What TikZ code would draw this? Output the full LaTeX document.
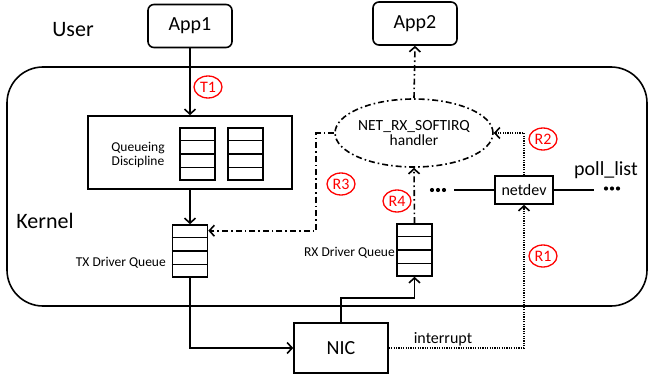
\documentclass[tikz,border=0pt]{standalone}
\usepackage{fontspec}
\setmainfont{Carlito}
\usetikzlibrary{arrows.meta,shapes.geometric,calc}
\newcommand{\fsz}[1]{\fontsize{#1}{#1}\selectfont}
\tikzset{
  box/.style={draw, line width=1.6pt, inner sep=0pt},
  appbox/.style={box, rounded corners=6pt, minimum width=84pt, minimum height=43pt, font=\fsz{20}},
  qbox/.style={box, minimum width=35pt, minimum height=52pt},
  tag/.style={draw=red, ellipse, text=red, line width=1.3pt, minimum width=28pt, minimum height=22pt, inner sep=0pt, font=\fsz{16}},
  conn/.style={line width=1.6pt, -{Straight Barb[length=5pt,width=11pt,line width=1.6pt]}},
  dashdot/.style={dash pattern=on 6pt off 3pt on 1.6pt off 3pt},
  dots/.style={line width=1.4pt, dash pattern=on 1.2pt off 1.2pt},
  lbl/.style={inner sep=0pt},
}
\newcommand{\qrows}[1]{\foreach \i in {1,2,3}{\draw[line width=1.6pt] ($(#1.north west)!\i/4!(#1.south west)$) -- ($(#1.north east)!\i/4!(#1.south east)$);}}
\begin{document}
\begin{tikzpicture}[x=1pt,y=-1pt]
\useasboundingbox (0,0) rectangle (649,380);
% kernel area
\node[draw, line width=1.6pt, rounded corners=36pt, minimum width=640pt, minimum height=239pt, inner sep=0pt] (kernel) at (327,186.5) {};
\node[lbl, font=\fsz{22}] (user) at (73,30) {User};
\node[lbl, font=\fsz{22}] (kerneltxt) at (45,221) {Kernel};
% apps
\node[appbox] (app1) at (190,26) {App1};
\node[appbox] (app2) at (415,23.5) {App2};
% qdisc
\node[box, minimum width=204pt, minimum height=73pt] (qdisc) at (190,152.5) {};
\node[lbl, font=\fsz{13.5}, align=center] (qdtxt) at (138,155) {Queueing\\Discipline};
\node[qbox] (q1) at (197.5,154) {};
\node[qbox] (q2) at (245.5,154) {};
\qrows{q1}
\qrows{q2}
% driver queues
\node[qbox] (txq) at (190,251) {};
\qrows{txq}
\node[lbl, font=\fsz{13.5}, anchor=east] (txtxt) at (166,263) {TX Driver Queue};
\node[qbox] (rxq) at (414.5,250) {};
\qrows{rxq}
\node[lbl, font=\fsz{13.5}, anchor=east] (rxtxt) at (395,253) {RX Driver Queue};
% NIC
\node[box, minimum width=94pt, minimum height=50pt, font=\fsz{20}] (nic) at (341,348) {NIC};
% softirq
\node[draw, ellipse, line width=1.6pt, dashdot, minimum width=146pt, minimum height=68pt, inner sep=0pt, font=\fsz{15.5}, align=center] (ell) at (414,133) {NET\_RX\_SOFTIRQ\\handler};
% netdev
\node[box, minimum width=58pt, minimum height=28pt, font=\fsz{16}] (netdev) at (524,190) {netdev};
\draw[line width=1.6pt] (netdev.west) -- ++(-40,0) coordinate (nl);
\draw[line width=1.6pt] (netdev.east) -- ++(40,0) coordinate (nr);
\foreach \x in {432,438,444} \fill (\x,190) circle (2.1pt);
\foreach \x in {606,612,618} \fill (\x,188.5) circle (2.1pt);
\node[lbl, font=\fsz{20}] (poll) at (606,170) {poll\_list};
% connectors
\draw[conn] (app1.south) -- (qdisc.north);
\draw[conn] (qdisc.south) -- (txq.north);
\draw[conn] (txq.south) |- (nic.west);
\draw[conn] (nic.north) -- ++(0,-24) -| (rxq.south);
\draw[conn, dashdot] (rxq.north) -- (ell.south);
\draw[conn, dashdot] (ell.north) -- (app2.south);
\draw[conn, dashdot] (ell.west) -- ++(-18,0) |- ($(txq.north east)+(0,6.5)$);
\draw[conn, dots] (netdev.north) |- (ell.east);
\draw[conn, dots] (nic.east) -| (netdev.south);
\node[lbl, font=\fsz{16}] (intr) at (443,339) {interrupt};
% tags
\node[tag] (t1) at (208,87) {T1};
\node[tag] (r3) at (341,184) {R3};
\node[tag] (r4) at (397,201) {R4};
\node[tag] (r2) at (543,139) {R2};
\node[tag] (r1) at (543,256) {R1};
\end{tikzpicture}
\end{document}
